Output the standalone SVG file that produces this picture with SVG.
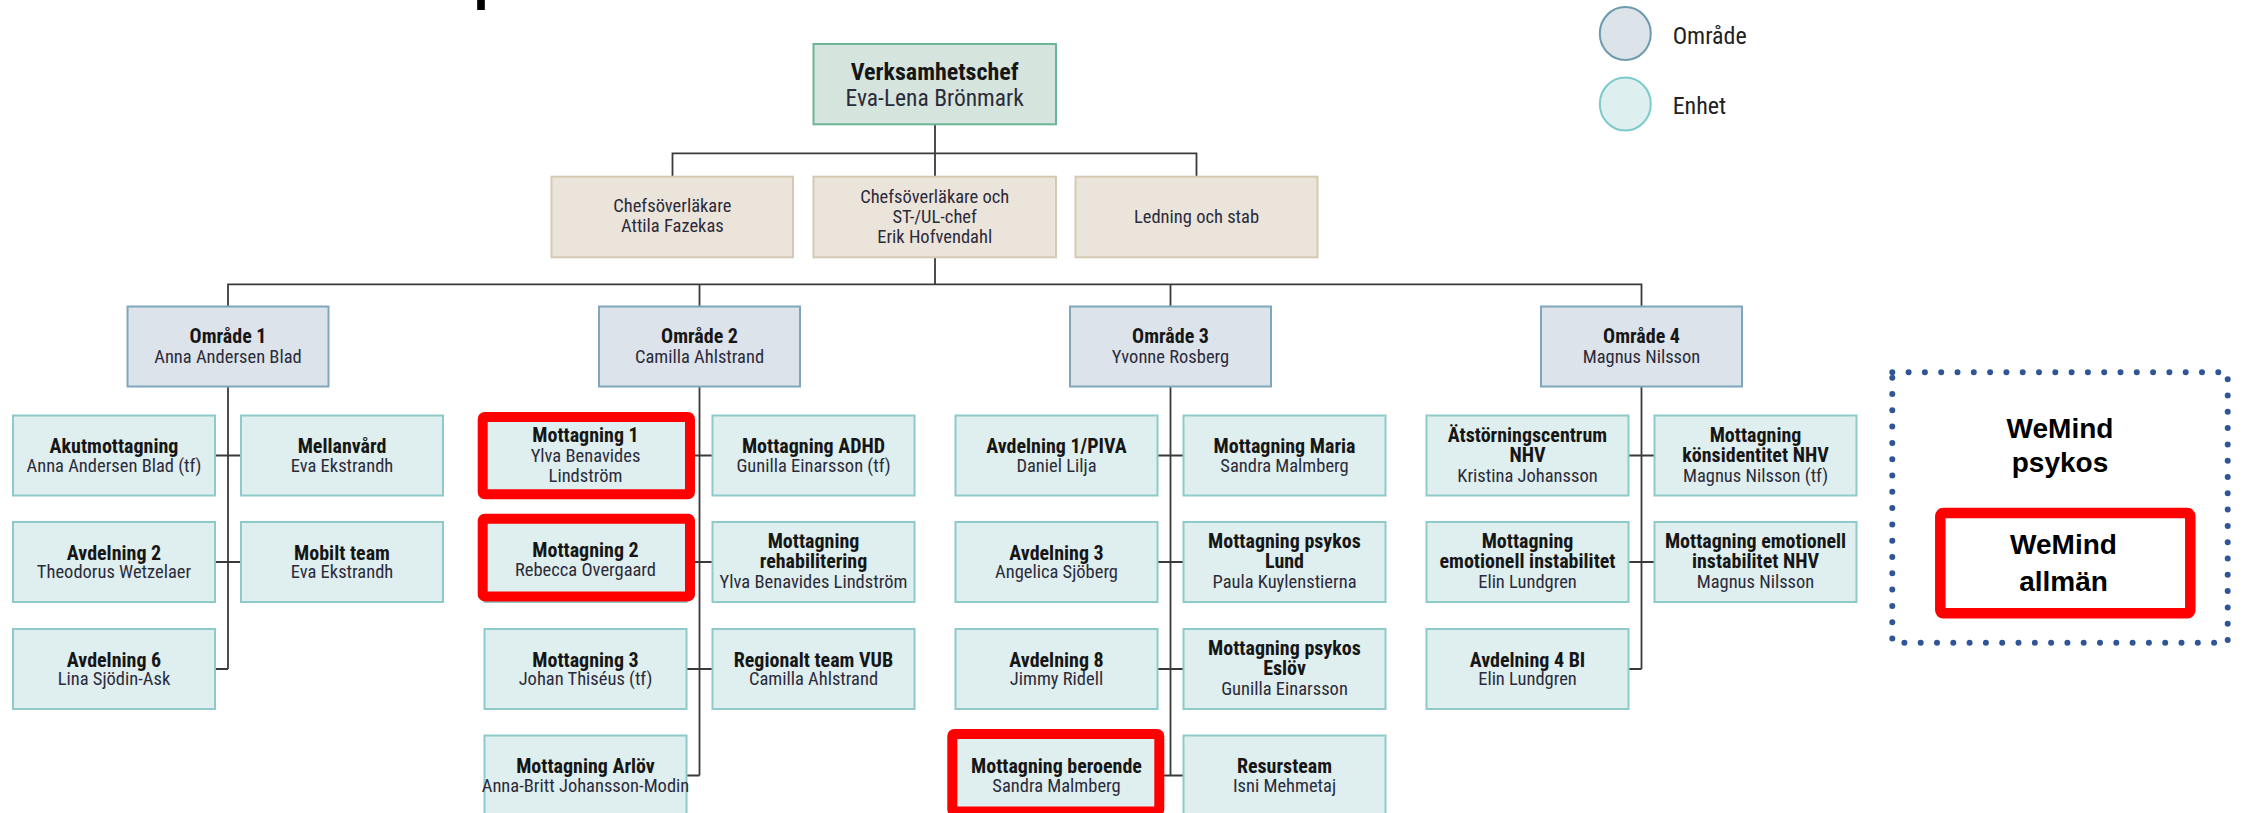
<svg xmlns="http://www.w3.org/2000/svg" width="2244" height="813" viewBox="0 0 2244 813">
<style>
text{font-family:"Liberation Sans Narrow","Roboto Condensed","DejaVu Sans Condensed",sans-serif;text-anchor:middle}
.b{font-weight:bold;font-size:20px;fill:#161616}
.r{font-size:18.5px;fill:#2b2b3a}
.enh rect{fill:#dfeeee;stroke:#8fcaca;stroke-width:2}
.omr rect{fill:#dde3ea;stroke:#7fa7bb;stroke-width:2}
.stab rect{fill:#ebe4da;stroke:#d5c9b3;stroke-width:2}
.top rect{fill:#d5e4dd;stroke:#6bb596;stroke-width:2}
.conn path{fill:none;stroke:#3a3a3a;stroke-width:1.8}
.hl{fill:none;stroke:#ff0000;stroke-width:10}
.wm{font-family:"Liberation Sans",Arial,sans-serif;font-weight:bold;font-size:28px;fill:#000}
.leg{font-size:24px;fill:#222;text-anchor:start}
</style>

<text x="473.3" y="-1.8" style="font-family:'Liberation Sans',sans-serif;font-weight:bold;font-size:56px;text-anchor:start;fill:#000">p</text>

<g id="legend">
<ellipse cx="1625.3" cy="33.5" rx="25.5" ry="26.5" fill="#dce3e9" stroke="#6d9aad" stroke-width="2"/>
<text class="leg" x="1672.7" y="43.5">Område</text>
<ellipse cx="1625.3" cy="104" rx="25.5" ry="26.5" fill="#ddefee" stroke="#7ccaca" stroke-width="2"/>
<text class="leg" x="1672.7" y="114">Enhet</text>
</g>

<g id="connectors" class="conn">
<path d="M935 124.3V176.7"/>
<path d="M672.5 176.7V153.3H1196.5V176.7"/>
<path d="M935 257.3V284.3"/>
<path d="M228 306.5V284.3H1641.5V306.5"/>
<path d="M699.5 284.3V306.5"/>
<path d="M1170.5 284.3V306.5"/>
<path d="M228 386.5V669M215 455.5H241M215 562H241M215 669H228"/>
<path d="M699.5 386.5V775.5M686.5 455.5H712.5M686.5 562H712.5M686.5 669H712.5M686.5 775.5H699.5"/>
<path d="M1170.5 386.5V775.5M1157.5 455.5H1183.5M1157.5 562H1183.5M1157.5 669H1183.5M1157.5 775.5H1183.5"/>
<path d="M1641.5 386.5V669M1628.5 455.5H1654.5M1628.5 562H1654.5M1628.5 669H1641.5"/>
</g>

<g id="verksamhetschef" class="top"><rect x="813.5" y="44" width="242.5" height="80.3"/>
<text class="b" x="934.7" y="80" style="font-size:24px">Verksamhetschef</text>
<text class="r" x="934.7" y="106" style="font-size:23.5px">Eva-Lena Brönmark</text></g>

<g id="chefsoverlakare" class="stab"><rect x="551.5" y="176.7" width="241.5" height="80.6"/>
<text class="r" x="672.3" y="212">Chefsöverläkare</text>
<text class="r" x="672.3" y="232">Attila Fazekas</text></g>

<g id="st-ul-chef" class="stab"><rect x="813.5" y="176.7" width="242.5" height="80.6"/>
<text class="r" x="934.7" y="202.7">Chefsöverläkare och</text>
<text class="r" x="934.7" y="223.3">ST-/UL-chef</text>
<text class="r" x="934.7" y="243.3">Erik Hofvendahl</text></g>

<g id="ledning" class="stab"><rect x="1075.5" y="176.7" width="242" height="80.6"/>
<text class="r" x="1196.5" y="223.3">Ledning och stab</text></g>

<g id="omrade1" class="omr"><rect x="127.5" y="306.5" width="201" height="80"/>
<text class="b" x="228" y="343">Område 1</text><text class="r" x="228" y="362.5">Anna Andersen Blad</text></g>
<g id="omrade2" class="omr"><rect x="599" y="306.5" width="201" height="80"/>
<text class="b" x="699.5" y="343">Område 2</text><text class="r" x="699.5" y="362.5">Camilla Ahlstrand</text></g>
<g id="omrade3" class="omr"><rect x="1070" y="306.5" width="201" height="80"/>
<text class="b" x="1170.5" y="343">Område 3</text><text class="r" x="1170.5" y="362.5">Yvonne Rosberg</text></g>
<g id="omrade4" class="omr"><rect x="1541" y="306.5" width="201" height="80"/>
<text class="b" x="1641.5" y="343">Område 4</text><text class="r" x="1641.5" y="362.5">Magnus Nilsson</text></g>

<!-- Område 1 units -->
<g id="akutmottagning" class="enh"><rect x="13" y="415.5" width="202" height="80"/>
<text class="b" x="114" y="453">Akutmottagning</text><text class="r" x="114" y="471.5">Anna Andersen Blad (tf)</text></g>
<g id="mellanvard" class="enh"><rect x="241" y="415.5" width="202" height="80"/>
<text class="b" x="342" y="453">Mellanvård</text><text class="r" x="342" y="471.5">Eva Ekstrandh</text></g>
<g id="avdelning2" class="enh"><rect x="13" y="522" width="202" height="80"/>
<text class="b" x="114" y="559.5">Avdelning 2</text><text class="r" x="114" y="578">Theodorus Wetzelaer</text></g>
<g id="mobilt-team" class="enh"><rect x="241" y="522" width="202" height="80"/>
<text class="b" x="342" y="559.5">Mobilt team</text><text class="r" x="342" y="578">Eva Ekstrandh</text></g>
<g id="avdelning6" class="enh"><rect x="13" y="629" width="202" height="80"/>
<text class="b" x="114" y="666.5">Avdelning 6</text><text class="r" x="114" y="685">Lina Sjödin-Ask</text></g>

<!-- Område 2 units -->
<g id="mottagning1" class="enh"><rect x="484.5" y="415.5" width="202" height="80"/>
<text class="b" x="585.5" y="441.5">Mottagning 1</text><text class="r" x="585.5" y="461.5">Ylva Benavides</text><text class="r" x="585.5" y="481.5">Lindström</text></g>
<g id="mottagning-adhd" class="enh"><rect x="712.5" y="415.5" width="202" height="80"/>
<text class="b" x="813.5" y="453">Mottagning ADHD</text><text class="r" x="813.5" y="471.5">Gunilla Einarsson (tf)</text></g>
<g id="mottagning2" class="enh"><rect x="484.5" y="522" width="202" height="80"/>
<text class="b" x="585.5" y="557">Mottagning 2</text><text class="r" x="585.5" y="575.5">Rebecca Overgaard</text></g>
<g id="mottagning-rehab" class="enh"><rect x="712.5" y="522" width="202" height="80"/>
<text class="b" x="813.5" y="548">Mottagning</text><text class="b" x="813.5" y="568">rehabilitering</text><text class="r" x="813.5" y="588">Ylva Benavides Lindström</text></g>
<g id="mottagning3" class="enh"><rect x="484.5" y="629" width="202" height="80"/>
<text class="b" x="585.5" y="666.5">Mottagning 3</text><text class="r" x="585.5" y="685">Johan Thiséus (tf)</text></g>
<g id="regionalt-team" class="enh"><rect x="712.5" y="629" width="202" height="80"/>
<text class="b" x="813.5" y="666.5">Regionalt team VUB</text><text class="r" x="813.5" y="685">Camilla Ahlstrand</text></g>
<g id="mottagning-arlov" class="enh"><rect x="484.5" y="735.5" width="202" height="80"/>
<text class="b" x="585.5" y="773">Mottagning Arlöv</text><text class="r" x="585.5" y="791.5">Anna-Britt Johansson-Modin</text></g>

<!-- Område 3 units -->
<g id="avdelning1-piva" class="enh"><rect x="955.5" y="415.5" width="202" height="80"/>
<text class="b" x="1056.5" y="453">Avdelning 1/PIVA</text><text class="r" x="1056.5" y="471.5">Daniel Lilja</text></g>
<g id="mottagning-maria" class="enh"><rect x="1183.5" y="415.5" width="202" height="80"/>
<text class="b" x="1284.5" y="453">Mottagning Maria</text><text class="r" x="1284.5" y="471.5">Sandra Malmberg</text></g>
<g id="avdelning3" class="enh"><rect x="955.5" y="522" width="202" height="80"/>
<text class="b" x="1056.5" y="559.5">Avdelning 3</text><text class="r" x="1056.5" y="578">Angelica Sjöberg</text></g>
<g id="psykos-lund" class="enh"><rect x="1183.5" y="522" width="202" height="80"/>
<text class="b" x="1284.5" y="548">Mottagning psykos</text><text class="b" x="1284.5" y="568">Lund</text><text class="r" x="1284.5" y="588">Paula Kuylenstierna</text></g>
<g id="avdelning8" class="enh"><rect x="955.5" y="629" width="202" height="80"/>
<text class="b" x="1056.5" y="666.5">Avdelning 8</text><text class="r" x="1056.5" y="685">Jimmy Ridell</text></g>
<g id="psykos-eslov" class="enh"><rect x="1183.5" y="629" width="202" height="80"/>
<text class="b" x="1284.5" y="655">Mottagning psykos</text><text class="b" x="1284.5" y="675">Eslöv</text><text class="r" x="1284.5" y="695">Gunilla Einarsson</text></g>
<g id="mottagning-beroende" class="enh"><rect x="955.5" y="735.5" width="202" height="80"/>
<text class="b" x="1056.5" y="773">Mottagning beroende</text><text class="r" x="1056.5" y="791.5">Sandra Malmberg</text></g>
<g id="resursteam" class="enh"><rect x="1183.5" y="735.5" width="202" height="80"/>
<text class="b" x="1284.5" y="773">Resursteam</text><text class="r" x="1284.5" y="791.5">Isni Mehmetaj</text></g>

<!-- Område 4 units -->
<g id="atstorning" class="enh"><rect x="1426.5" y="415.5" width="202" height="80"/>
<text class="b" x="1527.5" y="441.5">Ätstörningscentrum</text><text class="b" x="1527.5" y="461.5">NHV</text><text class="r" x="1527.5" y="481.5">Kristina Johansson</text></g>
<g id="konsidentitet" class="enh"><rect x="1654.5" y="415.5" width="202" height="80"/>
<text class="b" x="1755.5" y="441.5">Mottagning</text><text class="b" x="1755.5" y="461.5">könsidentitet NHV</text><text class="r" x="1755.5" y="481.5">Magnus Nilsson (tf)</text></g>
<g id="emotionell" class="enh"><rect x="1426.5" y="522" width="202" height="80"/>
<text class="b" x="1527.5" y="548">Mottagning</text><text class="b" x="1527.5" y="568">emotionell instabilitet</text><text class="r" x="1527.5" y="588">Elin Lundgren</text></g>
<g id="emotionell-nhv" class="enh"><rect x="1654.5" y="522" width="202" height="80"/>
<text class="b" x="1755.5" y="548">Mottagning emotionell</text><text class="b" x="1755.5" y="568">instabilitet NHV</text><text class="r" x="1755.5" y="588">Magnus Nilsson</text></g>
<g id="avdelning4-bi" class="enh"><rect x="1426.5" y="629" width="202" height="80"/>
<text class="b" x="1527.5" y="666.5">Avdelning 4 BI</text><text class="r" x="1527.5" y="685">Elin Lundgren</text></g>

<g id="highlights">
<rect class="hl" x="482.7" y="417" width="207.3" height="77.3" rx="2"/>
<rect class="hl" x="482.7" y="518.7" width="207.3" height="77.7" rx="2"/>
<rect class="hl" x="952.3" y="734" width="207" height="77.5" rx="2"/>
</g>

<g id="wemind">
<rect x="1892.3" y="372.3" width="335.4" height="270.4" fill="none" stroke="#2f5597" stroke-width="6" stroke-linecap="round" stroke-dasharray="0 16.3"/>
<text class="wm" x="2060" y="438.3">WeMind</text>
<text class="wm" x="2060" y="471.7">psykos</text>
<g id="wemind-allman">
<rect x="1940.3" y="513" width="250" height="100.3" rx="3" fill="#fff" stroke="#ff0000" stroke-width="10.5"/>
<text class="wm" x="2063.5" y="554.3">WeMind</text>
<text class="wm" x="2063.5" y="591">allmän</text>
</g>
</g>
</svg>
